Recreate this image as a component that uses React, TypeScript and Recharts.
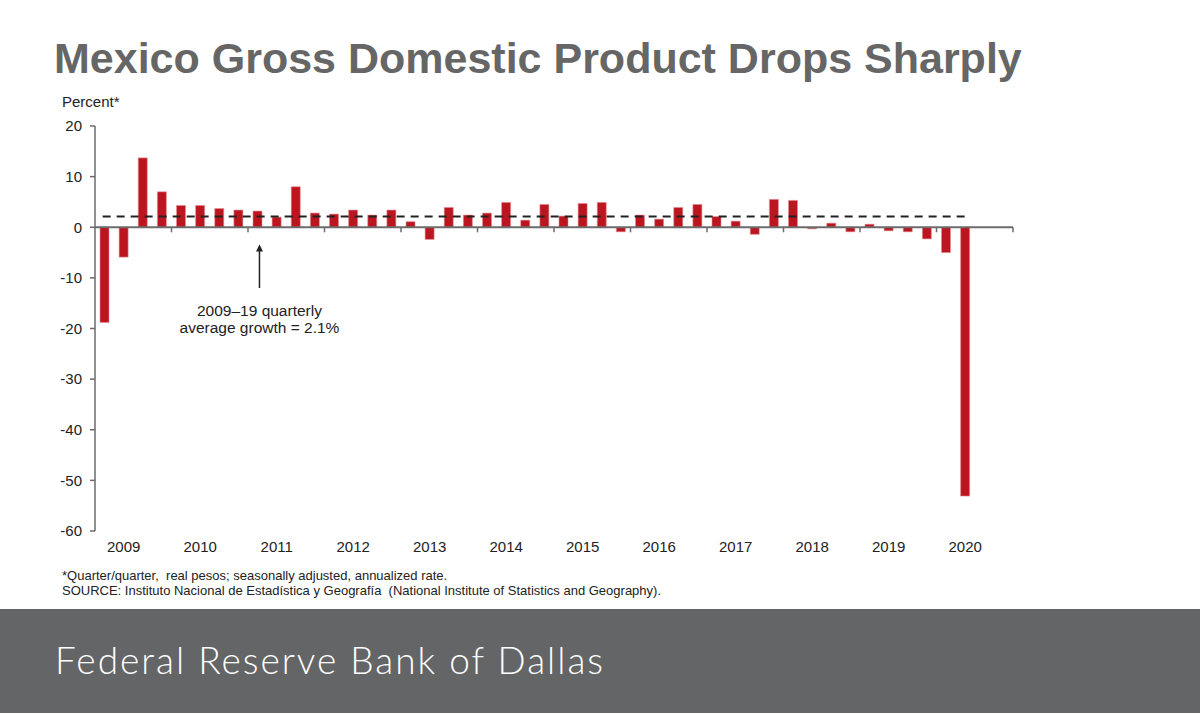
import React from 'react';
import { BarChart, Bar, XAxis, YAxis, ReferenceLine } from 'recharts';

// Mexico GDP, quarter/quarter annualized % change, 2009 Q1 – 2020 Q2
const years = ['2009', '2010', '2011', '2012', '2013', '2014', '2015', '2016', '2017', '2018', '2019', '2020'];
const growth = [
  -18.8, -5.9, 13.7, 7.0,
  4.3, 4.3, 3.7, 3.4,
  3.2, 2.0, 8.0, 2.8,
  2.6, 3.4, 2.4, 3.4,
  1.1, -2.4, 3.9, 2.4,
  2.8, 4.9, 1.4, 4.5,
  2.2, 4.7, 4.9, -0.9,
  2.4, 1.6, 3.9, 4.5,
  2.1, 1.2, -1.4, 5.5,
  5.3, -0.3, 0.8, -0.9,
  0.6, -0.7, -0.9, -2.3,
  -5.0, -53.1,
];
const yTicks = [20, 10, 0, -10, -20, -30, -40, -50, -60];
const averageGrowth = 2.1;
const annotationLines = ['2009–19 quarterly', 'average growth = 2.1%'];

const data = growth.map((v, i) => ({ pos: i + 0.5, value: v }));
const labelTicks = years.map((_, k) => k * 4 + 1.5);
const yearBounds = years.map((_, k) => (k + 1) * 4);

const FONT = '"Liberation Sans", Arial, sans-serif';
const AXIS = '#6b6b6b';

const Arrow = (props: any) => {
  const { x1, y1, x2, y2 } = props;
  const top = Math.min(y1, y2);
  const bottom = Math.max(y1, y2);
  return (
    <g>
      <line x1={x1} y1={bottom} x2={x2} y2={top + 4} stroke="#222" strokeWidth={1.5} />
      <polygon points={`${x1 - 3.5},${top + 7} ${x1 + 3.5},${top + 7} ${x1},${top}`} fill="#222" />
      {annotationLines.map((t, i) => (
        <text key={t} x={x1} y={bottom + 28 + i * 17} textAnchor="middle" fontSize={15.5} fill="#222" fontFamily={FONT}>
          {t}
        </text>
      ))}
    </g>
  );
};

export default function App() {
  return (
    <div style={{ position: 'absolute', left: 0, top: 0, width: 1200, height: 713, background: '#fff', fontFamily: FONT, overflow: 'hidden' }}>
      <div style={{ position: 'absolute', left: 54, top: 32, fontSize: 43, fontWeight: 700, color: '#666', whiteSpace: 'nowrap', lineHeight: '52px' }}>
        Mexico Gross Domestic Product Drops Sharply
      </div>
      <div style={{ position: 'absolute', left: 62, top: 93, fontSize: 15, color: '#222' }}>Percent*</div>

      <div style={{ position: 'absolute', left: 0, top: 0 }}>
        <BarChart width={1200} height={600} data={data} margin={{ top: 126, right: 187, bottom: 39, left: 0 }} style={{ fontFamily: FONT }}>
          <XAxis
            type="number"
            dataKey="pos"
            domain={[0, 48]}
            ticks={labelTicks}
            tickFormatter={(v: number) => years[Math.floor(v / 4)]}
            axisLine={false}
            tickLine={false}
            interval={0}
            height={30}
            tickMargin={4}
            tick={{ fill: '#222', fontSize: 15 }}
          />
          <YAxis
            type="number"
            domain={[-60, 20]}
            ticks={yTicks}
            interval={0}
            width={95}
            axisLine={{ stroke: AXIS, strokeWidth: 1.5 }}
            tickLine={{ stroke: AXIS, strokeWidth: 1.5 }}
            tickSize={5}
            tickMargin={8}
            tick={{ fill: '#222', fontSize: 15 }}
          />
          <Bar dataKey="value" fill="#BB1520" stroke="#E58A90" strokeWidth={0.6} barSize={9} isAnimationActive={false} />
          <ReferenceLine y={0} stroke={AXIS} strokeWidth={2} />
          {yearBounds.map((b) => (
            <ReferenceLine key={b} segment={[{ x: b, y: 0 }, { x: b, y: -1 }]} stroke={AXIS} strokeWidth={1.5} />
          ))}
          <ReferenceLine
            segment={[{ x: 0.4, y: averageGrowth }, { x: 45.5, y: averageGrowth }]}
            stroke="#222"
            strokeWidth={2}
            strokeDasharray="8 6"
          />
          <ReferenceLine segment={[{ x: 8.6, y: -3.4 }, { x: 8.6, y: -12 }]} shape={<Arrow />} />
        </BarChart>
      </div>

      <div style={{ position: 'absolute', left: 62, top: 568, fontSize: 13, color: '#222', lineHeight: '15px', whiteSpace: 'nowrap' }}>
        <div>*Quarter/quarter,&nbsp; real pesos; seasonally adjusted, annualized rate.</div>
        <div>SOURCE: Instituto Nacional de Estadística y Geografía&nbsp; (National Institute of Statistics and Geography).</div>
      </div>

      <div style={{ position: 'absolute', left: 0, top: 609, width: 1200, height: 104, background: '#636567' }}>
        <div style={{ position: 'absolute', left: 55, top: 28, fontSize: 37, letterSpacing: 2, fontWeight: 300, color: '#fff', fontFamily: 'Lato, "Open Sans", sans-serif', whiteSpace: 'nowrap' }}>
          Federal Reserve Bank of Dallas
        </div>
      </div>
    </div>
  );
}
